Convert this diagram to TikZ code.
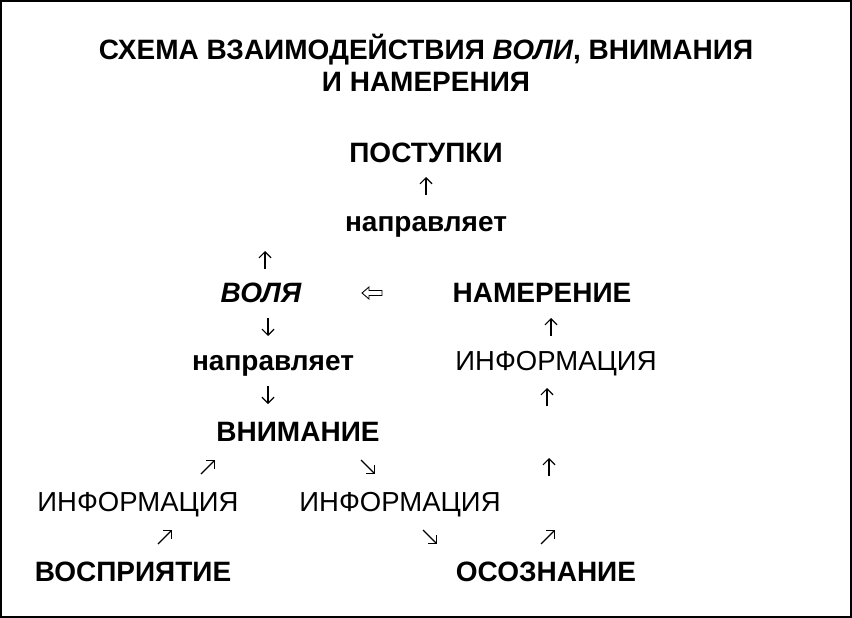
\documentclass[tikz,border=0pt]{standalone}
\usepackage{fontspec}
\setmainfont{Liberation Sans}
\usetikzlibrary{arrows.meta}
\tikzset{
  label bold/.style={font=\fontsize{28}{32}\selectfont\bfseries, inner sep=0pt},
  label info/.style={font=\fontsize{27.5}{32}\selectfont, inner sep=0pt},
  pointer/.style={line width=1.2pt, -{Straight Barb[length=6pt, width=12pt]}}
}
\begin{document}
\begin{tikzpicture}[x=1pt, y=-1pt]
  \useasboundingbox (0,0) rectangle (852,618);
  % frame
  \draw[line width=2pt] (1,1) rectangle (851,617);
  % title
  \node[label bold, align=center] (title) at (426,63)
    {СХЕМА ВЗАИМОДЕЙСТВИЯ \textit{ВОЛИ}, ВНИМАНИЯ\\И НАМЕРЕНИЯ};
  % words
  \node[label bold] (postupki) at (426,153) {ПОСТУПКИ};
  \node[label bold] (napravl1) at (426,227) {направляет};
  \node[label bold, font=\fontsize{28}{32}\selectfont\bfseries\itshape] (volya) at (261,293) {ВОЛЯ};
  \node[label bold] (namerenie) at (542,293) {НАМЕРЕНИЕ};
  \node[label bold] (napravl2) at (273,366) {направляет};
  \node[label info] (info1) at (556,364) {ИНФОРМАЦИЯ};
  \node[label bold] (vnimanie) at (298,432) {ВНИМАНИЕ};
  \node[label info] (info2) at (138,505) {ИНФОРМАЦИЯ};
  \node[label info] (info3) at (400,505) {ИНФОРМАЦИЯ};
  \node[label bold] (vospr) at (133,572) {ВОСПРИЯТИЕ};
  \node[label bold] (osozn) at (546,572) {ОСОЗНАНИЕ};
  % arrow ends
  \coordinate (p1a) at (426,195); \coordinate (p1b) at (426,177);
  \coordinate (p2a) at (265,269); \coordinate (p2b) at (265,251);
  \coordinate (p3a) at (268,318); \coordinate (p3b) at (268,336);
  \coordinate (p4a) at (551,336); \coordinate (p4b) at (551,318);
  \coordinate (p5a) at (268,386); \coordinate (p5b) at (268,404);
  \coordinate (p6a) at (547,406); \coordinate (p6b) at (547,388);
  \coordinate (p7a) at (201,474); \coordinate (p7b) at (215,460);
  \coordinate (p8a) at (361,460); \coordinate (p8b) at (375,474);
  \coordinate (p9a) at (549,476); \coordinate (p9b) at (549,458);
  \coordinate (p10a) at (158,544); \coordinate (p10b) at (172,530);
  \coordinate (p11a) at (423,530); \coordinate (p11b) at (437,544);
  \coordinate (p12a) at (541,544); \coordinate (p12b) at (555,530);
  \foreach \p in {p1,p2,p3,p4,p5,p6,p7,p8,p9,p10,p11,p12}
    \draw[pointer] (\p a) -- (\p b);
  % hollow arrow
  \coordinate (hollow) at (372,293);
  \draw[line width=0.9pt, line join=miter, shift={(hollow)}]
    (-10,0) -- (-3,-6) -- (-3,-2.5) -- (10,-2.5) -- (10,2.5) -- (-3,2.5) -- (-3,6) -- cycle;
\end{tikzpicture}
\end{document}
